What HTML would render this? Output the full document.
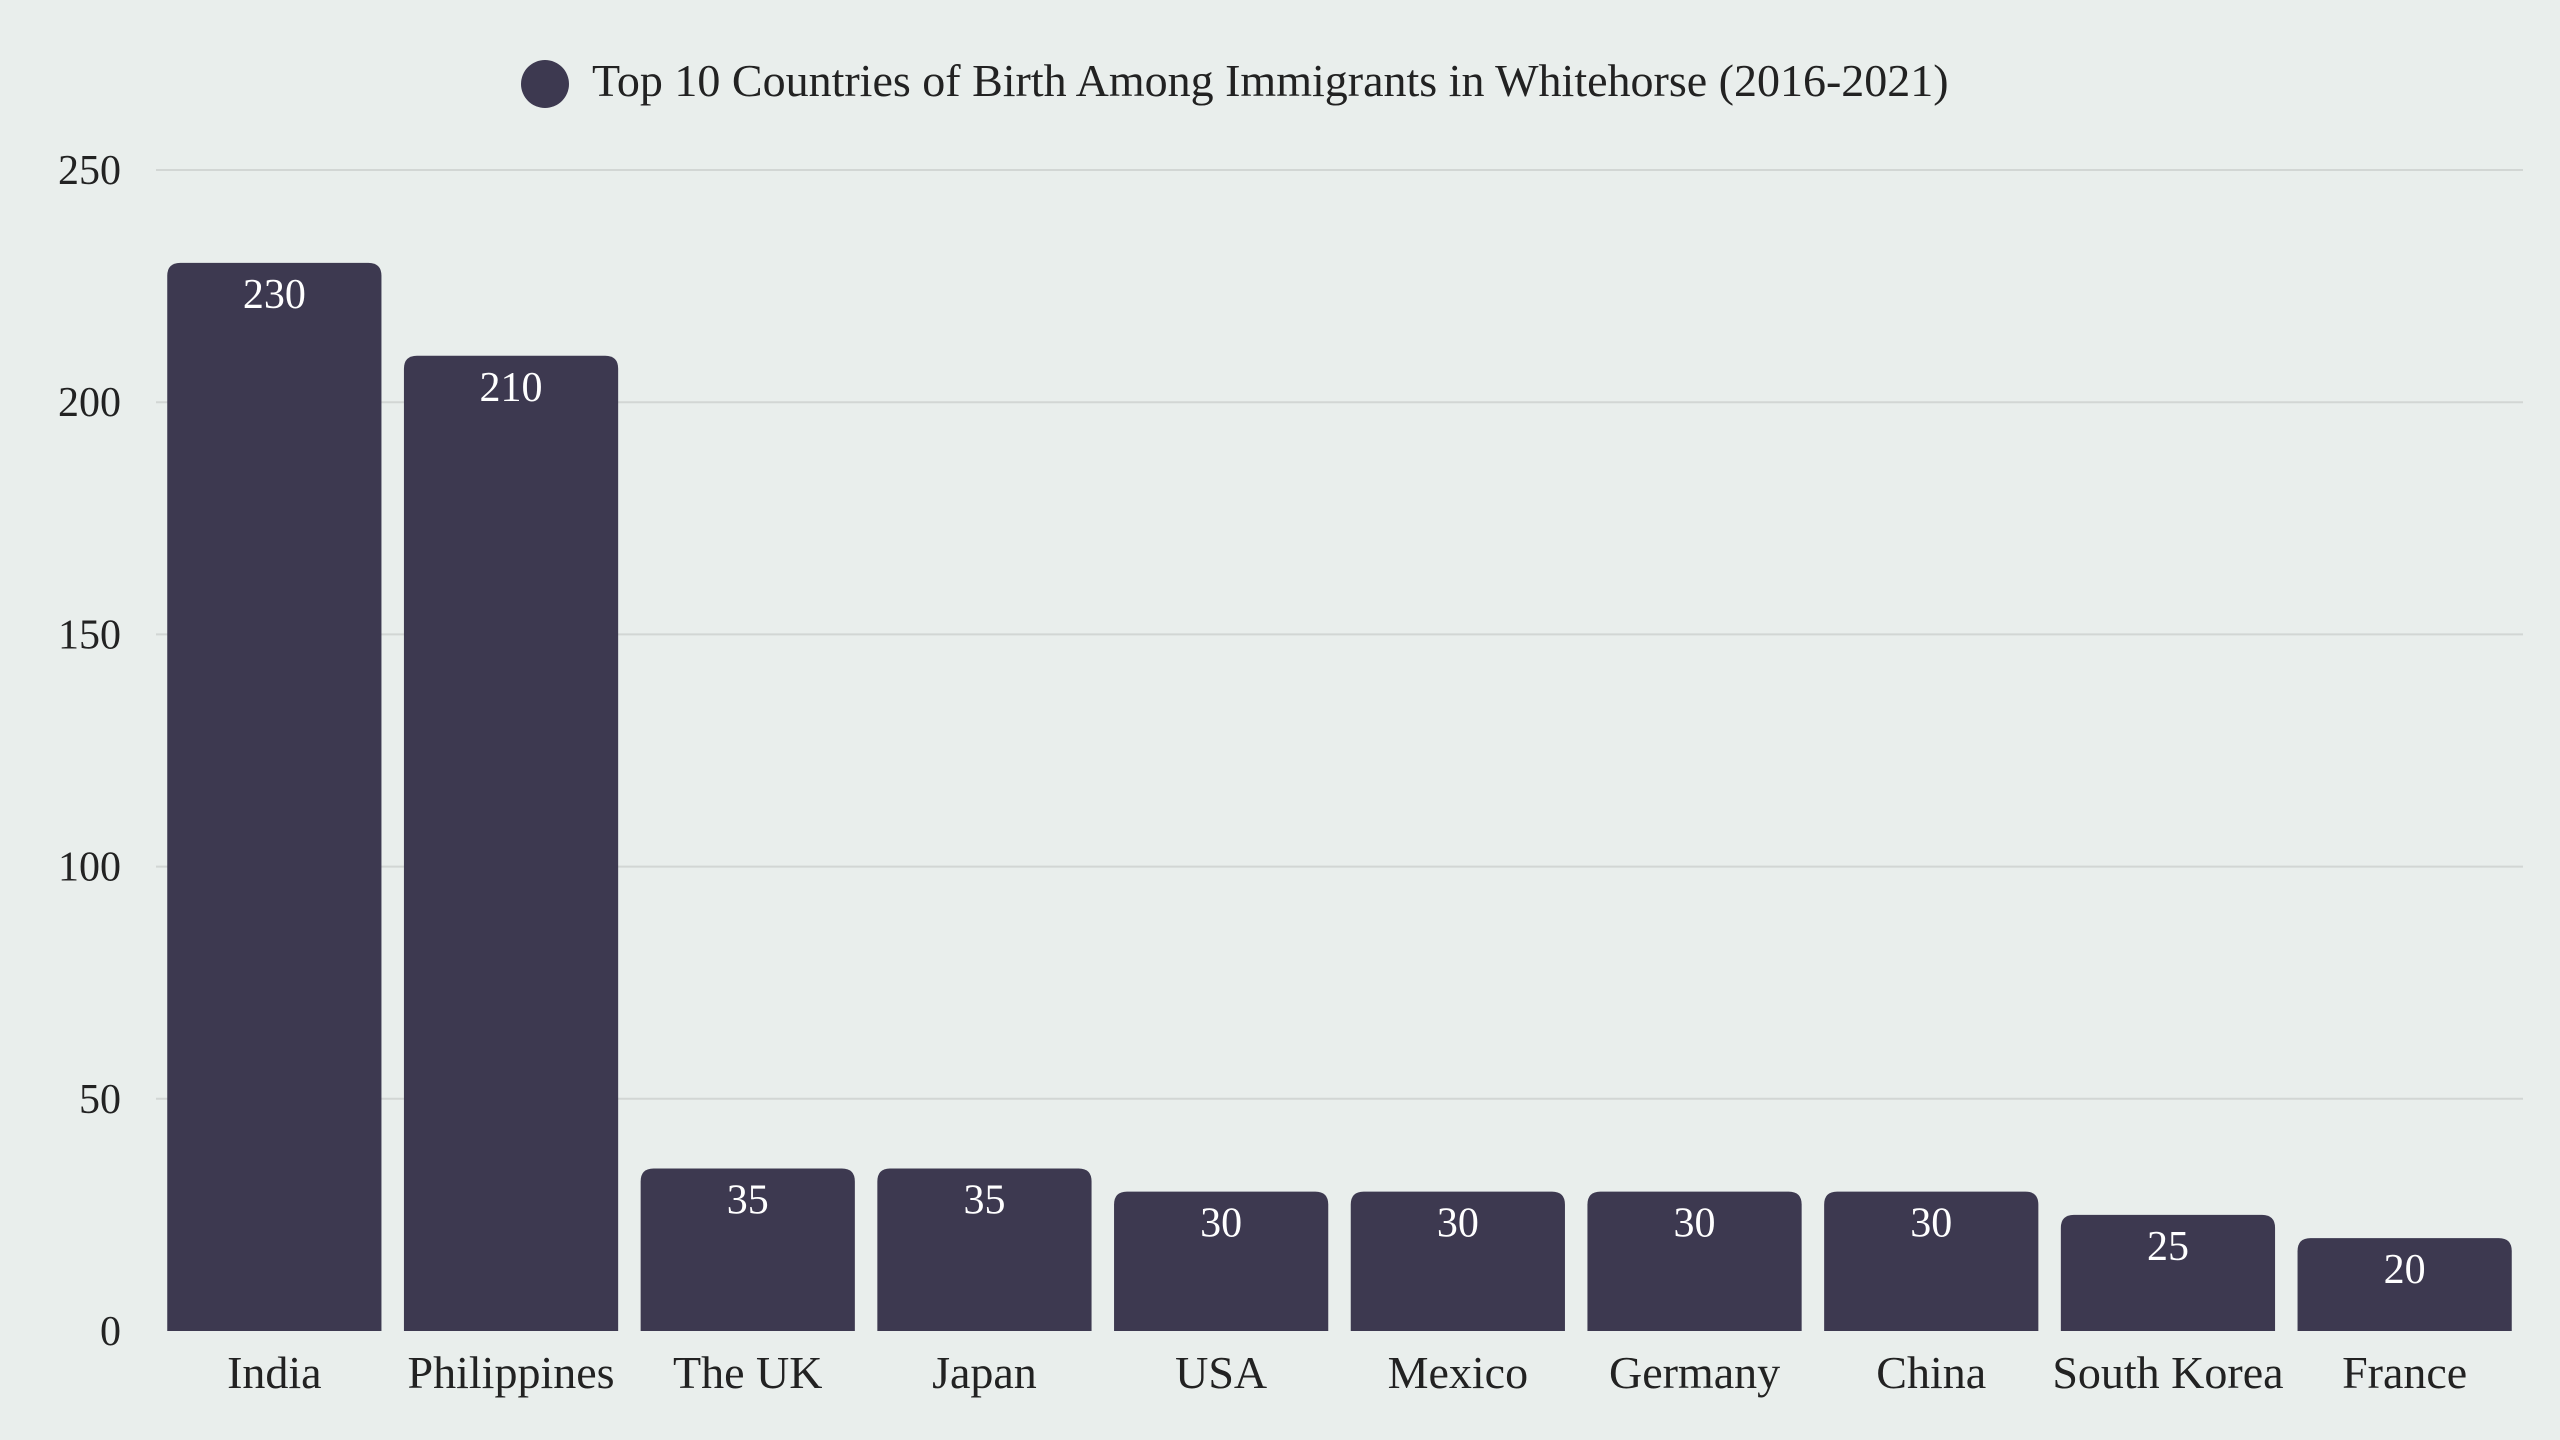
<!DOCTYPE html>
<html><head><meta charset="utf-8"><style>
html,body{margin:0;padding:0;background:#e9eeec;}
svg{display:block;font-family:"Liberation Serif",serif;}
</style></head><body>
<svg id="chart" width="2560" height="1440" viewBox="0 0 2560 1440" xmlns="http://www.w3.org/2000/svg">
<rect width="2560" height="1440" fill="#e9eeec"/>
<g id="legend">
<circle cx="545" cy="84" r="24" fill="#3d3950"/>
<text x="592" y="96" font-size="46" fill="#222">Top 10 Countries of Birth Among Immigrants in Whitehorse (2016-2021)</text>
</g>
<g id="grid"></g><g id="yticks"></g><g id="bars"></g><g id="xlabels"></g>
</svg>
<script>
const categories=["India","Philippines","The UK","Japan","USA","Mexico","Germany","China","South Korea","France"];
const values=[230,210,35,35,30,30,30,30,25,20];
const tickValues=[0,50,100,150,200,250];
const NS="http://www.w3.org/2000/svg";
const L=156,R=2523,Y0=1331,Y1=170,MAX=250;
const y=v=>Y0-(v/MAX)*(Y0-Y1);
const band=(R-L)/categories.length;
const x=i=>L+i*band;
function mk(t,a,p){const e=document.createElementNS(NS,t);for(const k in a)e.setAttribute(k,a[k]);p.appendChild(e);return e;}
const grid=document.getElementById('grid'),yt=document.getElementById('yticks'),bars=document.getElementById('bars'),xl=document.getElementById('xlabels');
tickValues.forEach(v=>{
 if(v>0){const g=mk('line',{x1:L,x2:R,y1:y(v),y2:y(v),stroke:'#d2d6d4','stroke-width':2},grid);
 
 }
 const t=mk('text',{x:121,y:y(v)+14,'text-anchor':'end','font-size':42,fill:'#222'},yt);
 t.textContent=v;
 
 
});
const bw=band*0.905,rr=13;
values.forEach((v,i)=>{
 const x0=x(i)+(band-bw)/2,top=y(v),h=Y0-top;
 const p=mk('path',{d:`M${x0},${Y0}V${top+rr}Q${x0},${top} ${x0+rr},${top}H${x0+bw-rr}Q${x0+bw},${top} ${x0+bw},${top+rr}V${Y0}Z`,fill:'#3d3950'},bars);
 
 
 const vl=mk('text',{x:x0+bw/2,y:top+45,'text-anchor':'middle','font-size':42,fill:'#fff'},bars);
 vl.textContent=v;
 
 
 const c=mk('text',{x:x0+bw/2,y:1388,'text-anchor':'middle','font-size':46,fill:'#222'},xl);
 c.textContent=categories[i];
 
 
});
</script>
</body></html>
